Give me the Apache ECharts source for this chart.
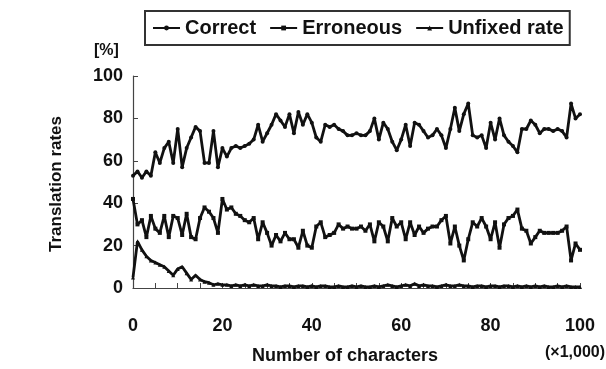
<!DOCTYPE html>
<html>
<head>
<meta charset="utf-8">
<script src="https://cdn.jsdelivr.net/npm/echarts@6/dist/echarts.min.js"></script>
<style>
html,body{margin:0;padding:0;background:#fff;}
#chart{width:606px;height:369px;}
</style>
</head>
<body>
<div id="chart"></div>
<script>
// x positions (×1,000 characters)
var chars = [];
for (var i = 0; i <= 100; i++) chars.push(i);

var seriesNames = ['Correct', 'Erroneous', 'Unfixed rate'];

var correct = [53,55,52,55,53,64,59,66,69,59,75,57,66,71,76,74,59,59,74,57,
  66,62,66,67,66,67,68,70,77,69,73,77,82,79,76,82,73,83,77,82,
  78,71,69,77,76,77,75,74,72,72,73,72,72,74,80,70,78,75,69,65,
  70,77,67,78,77,74,71,72,75,72,66,75,85,74,82,87,72,71,72,66,
  78,70,80,72,69,67,64,75,75,79,77,73,75,75,74,75,74,71,87,80,82];

var erroneous = [42,30,32,24,34,28,26,34,24,34,33,25,35,24,23,33,38,36,33,26,
  42,37,38,35,34,32,31,33,23,31,26,20,25,22,26,23,23,19,27,20,
  19,29,31,24,25,26,30,28,29,28,28,29,27,30,22,31,29,22,33,29,
  31,23,31,25,29,26,28,29,29,32,34,21,29,20,13,23,31,29,33,29,
  23,31,19,30,33,34,37,28,27,21,24,27,26,26,26,26,27,29,13,21,18];

var unfixed = [5,22,18,15,13,12,11,10,8,6,9,10,7,4,6,4,3,2.5,1.5,2,
  1.5,1.5,1,1.5,1,1.5,1,1.5,1,1,1.5,1,1,0.5,1,1,0.5,1,1,0.5,
  1,0.5,1,1,0.5,0.5,1,0.5,0.5,1,0.5,1,0.5,0.5,1,0.5,1,1.5,1,0.5,
  1,1.5,1,2,1,1.5,1,1,0.5,1,1.5,1,1,1.5,1,1,0.5,1,1,0.5,
  1,1,0.5,1,1,0.5,1,0.5,1,0.5,1,0.5,1,0.5,0.5,1,0.5,1,0.5,0.5,0.5];

var xTicks = [0,20,40,60,80,100];
var yTicks = [0,20,40,60,80,100];

function pairs(arr){ return arr.map(function(v,i){ return [chars[i], v]; }); }

var FONT = '"Liberation Sans", Arial, sans-serif';
var INK = '#111';

var chart = echarts.init(document.getElementById('chart'), null, {renderer:'canvas'});
var symbols = ['circle','rect','triangle'];
var datas = [correct, erroneous, unfixed];

chart.setOption({
  animation: false,
  backgroundColor: '#fff',
  grid: {left: 133, right: 26, top: 76, bottom: 81},
  legend: {
    data: seriesNames,
    left: 145, top: 11,
    padding: [7, 6, 7, 7],
    borderColor: '#333', borderWidth: 2,
    itemWidth: 27, itemHeight: 6, itemGap: 13,
    textStyle: {fontSize: 20, fontWeight: 'bold', color: INK, fontFamily: FONT}
  },
  xAxis: {
    type: 'value', min: 0, max: 100, interval: 20,
    axisLine: {lineStyle: {color: '#444', width: 1.2}},
    axisTick: {inside: true, length: 5, lineStyle: {color: '#444'}},
    minorTick: {show: true, splitNumber: 4, length: 5, lineStyle: {color: '#444'}},
    axisLabel: {margin: 29, fontSize: 18, fontWeight: 'bold', color: INK, fontFamily: FONT,
      formatter: function(v){ return xTicks.indexOf(v) >= 0 ? String(v) : ''; }},
    splitLine: {show: false}
  },
  yAxis: {
    type: 'value', min: 0, max: 100, interval: 20,
    axisLine: {show: true, lineStyle: {color: '#444', width: 1.2}},
    axisTick: {show: true, inside: true, length: 5, lineStyle: {color: '#444'}},
    axisLabel: {margin: 10, fontSize: 18, fontWeight: 'bold', color: INK, fontFamily: FONT,
      formatter: function(v){ return yTicks.indexOf(v) >= 0 ? String(v) : ''; }},
    splitLine: {show: false}
  },
  graphic: [
    {type: 'text', left: 94, top: 43, style: {text: '[%]', font: 'bold 16px ' + FONT, fill: INK}},
    {type: 'text', x: 56, y: 184, rotation: Math.PI / 2,
      style: {text: 'Translation rates', font: 'bold 17px ' + FONT, fill: INK, align: 'center', verticalAlign: 'middle'}},
    {type: 'text', x: 345, y: 356,
      style: {text: 'Number of characters', font: 'bold 18px ' + FONT, fill: INK, align: 'center', verticalAlign: 'middle'}},
    {type: 'text', x: 605, y: 353,
      style: {text: '(×1,000)', font: 'bold 16px ' + FONT, fill: INK, align: 'right', verticalAlign: 'middle'}}
  ],
  series: seriesNames.map(function(name, k){
    return {
      name: name, type: 'line',
      data: pairs(datas[k]),
      symbol: symbols[k], symbolSize: 4, showSymbol: true,
      lineStyle: {color: INK, width: 2.8},
      itemStyle: {color: INK},
      emphasis: {disabled: true}
    };
  })
});
</script>
</body>
</html>
